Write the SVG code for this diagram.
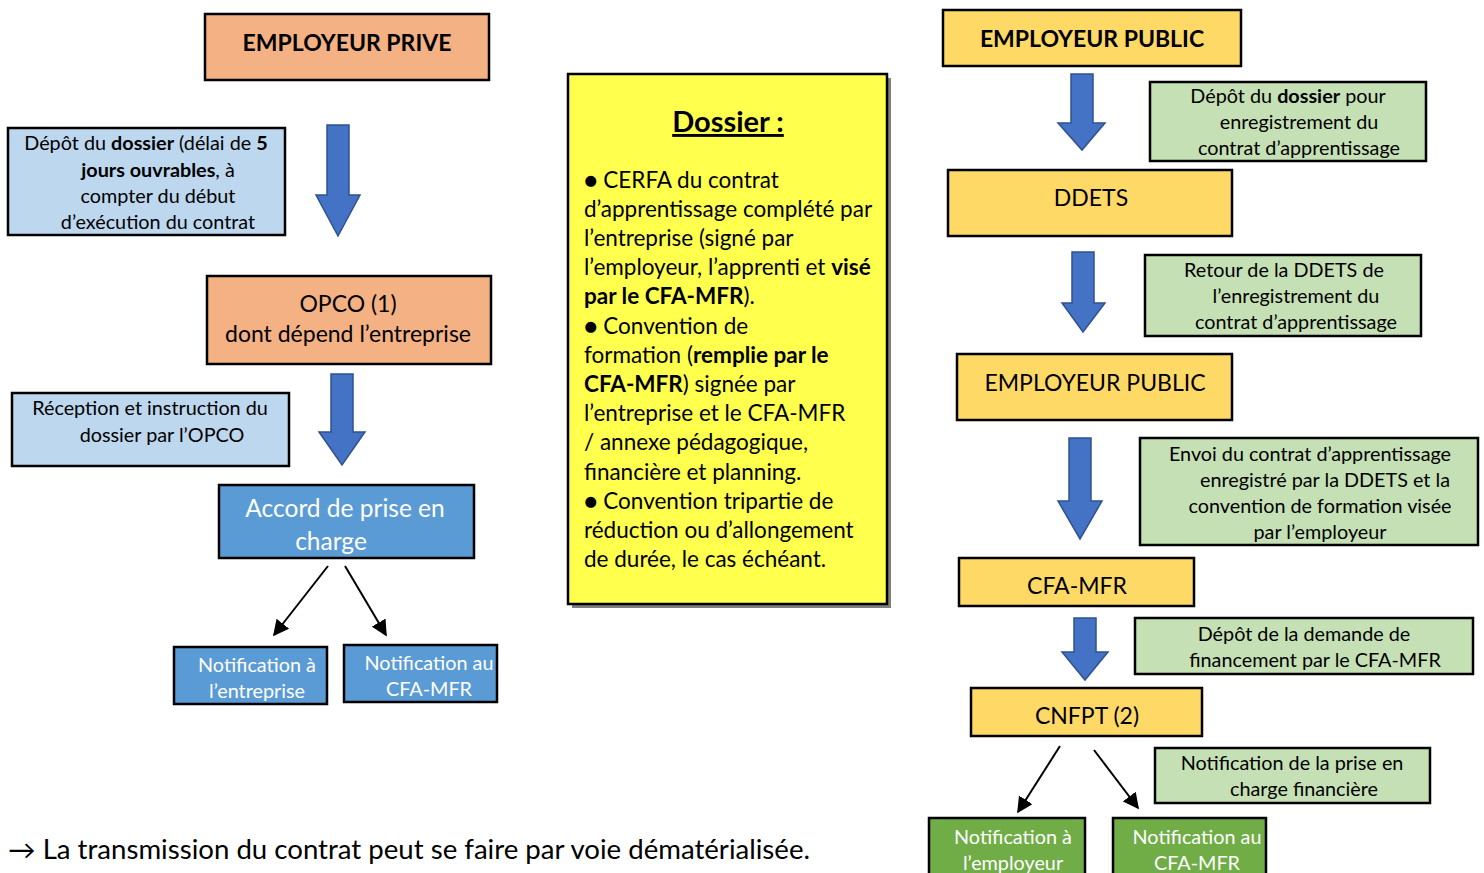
<svg xmlns="http://www.w3.org/2000/svg" width="1484" height="873" viewBox="0 0 1484 873">
<style>
text{font-family:Lato,"Open Sans","DejaVu Sans",sans-serif;fill:#000}
.box{stroke:#000;stroke-width:2.5}
.orange{fill:#F4B183}
.lblue{fill:#BDD7EE}
.mblue{fill:#5B9BD5}
.gold{fill:#FFD966}
.lgreen{fill:#C5E0B4}
.green{fill:#70AD47}
.t18{font-size:19.8px}
.t21{font-size:22.5px}
.t22{font-size:23px}
.w{fill:#fff}
.b{font-weight:bold}
.blk{stroke:#2F528F;stroke-width:1.5;fill:#4472C4}
.ln{stroke:#000;stroke-width:2;fill:none;marker-end:url(#ah)}
</style>
<defs>
<marker id="ah" viewBox="0 0 10 10" refX="9" refY="5" markerWidth="8" markerHeight="8" orient="auto" markerUnits="strokeWidth">
<path d="M0,0 L10,5 L0,10 z" fill="#000"/>
</marker>
</defs>
<rect width="1484" height="873" fill="#fff"/>

<g id="connectors">
<polygon class="blk" points="327,125 349,125 349,195 360,195 338,236 316,195 327,195"/>
<polygon class="blk" points="331,374 353,374 353,432 365,432 342,465 319,432 331,432"/>
<path class="ln" d="M328,566 L274,635"/>
<path class="ln" d="M345,566 L386,635"/>
<polygon class="blk" points="1071,74 1093,74 1093,123 1105,123 1082,150 1058,123 1071,123"/>
<polygon class="blk" points="1072,252 1094,252 1094,303 1105,303 1083,332 1062,303 1072,303"/>
<polygon class="blk" points="1069,438 1091,438 1091,501 1102,501 1080,539 1058,501 1069,501"/>
<polygon class="blk" points="1074,618 1096,618 1096,652 1108,652 1085,680 1062,652 1074,652"/>
<path class="ln" d="M1060,746 L1018,812"/>
<path class="ln" d="M1094,750 L1138,808"/>
</g>

<g id="employeur-prive">
<rect class="box orange" x="205" y="14" width="284" height="66"/>
<text class="t22 b" x="347" y="51" text-anchor="middle">EMPLOYEUR PRIVE</text>
</g>

<g id="depot-dossier-prive">
<rect class="box lblue" x="8" y="128" width="277" height="107"/>
<text class="t18" text-anchor="middle"><tspan x="146" y="150">Dépôt du <tspan class="b">dossier</tspan> (délai de <tspan class="b">5</tspan></tspan><tspan x="158" y="177"><tspan class="b">jours ouvrables</tspan>, à</tspan><tspan x="158" y="203">compter du début</tspan><tspan x="158" y="229">d’exécution du contrat</tspan></text>
</g>

<g id="opco">
<rect class="box orange" x="207" y="276" width="284" height="88"/>
<text class="t22" text-anchor="middle"><tspan x="348" y="312">OPCO (1)</tspan><tspan x="348" y="342">dont dépend l’entreprise</tspan></text>
</g>

<g id="reception">
<rect class="box lblue" x="12" y="393" width="277" height="73"/>
<text class="t18" text-anchor="middle"><tspan x="150" y="415">Réception et instruction du</tspan><tspan x="162" y="442">dossier par l’OPCO</tspan></text>
</g>

<g id="accord">
<rect class="box mblue" x="219" y="485" width="255" height="73"/>
<text class="w" text-anchor="middle" style="font-size:24.5px"><tspan x="345" y="517">Accord de prise en</tspan><tspan x="331" y="550">charge</tspan></text>
</g>

<g id="notif-entreprise">
<rect class="box mblue" x="174" y="647" width="153" height="57"/>
<text class="t18 w" text-anchor="middle"><tspan x="257" y="672">Notification à</tspan><tspan x="257" y="698">l’entreprise</tspan></text>
</g>

<g id="notif-cfa-prive">
<rect class="box mblue" x="344" y="645" width="153" height="57"/>
<text class="t18 w" text-anchor="middle"><tspan x="429" y="670">Notification au</tspan><tspan x="429" y="696">CFA-MFR</tspan></text>
</g>

<g id="dossier">
<rect x="572" y="78" width="319" height="530" fill="#7f7f7f"/>
<rect x="568" y="74" width="319" height="530" fill="#FFFF4D" stroke="#000" stroke-width="2.5"/>
<text x="728" y="132" text-anchor="middle" class="b" style="font-size:29px;text-decoration:underline">Dossier :</text>
<text class="t21">
<tspan x="584" y="188">● CERFA du contrat</tspan>
<tspan x="584" y="217">d’apprentissage complété par</tspan>
<tspan x="584" y="246">l’entreprise (signé par</tspan>
<tspan x="584" y="275">l’employeur, l’apprenti et <tspan class="b">visé</tspan></tspan>
<tspan x="584" y="304"><tspan class="b">par le CFA-MFR</tspan>).</tspan>
<tspan x="584" y="334">● Convention de</tspan>
<tspan x="584" y="363">formation (<tspan class="b">remplie par le</tspan></tspan>
<tspan x="584" y="392"><tspan class="b">CFA-MFR</tspan>) signée par</tspan>
<tspan x="584" y="421">l’entreprise et le CFA-MFR</tspan>
<tspan x="584" y="450">/ annexe pédagogique,</tspan>
<tspan x="584" y="480">financière et planning.</tspan>
<tspan x="584" y="509">● Convention tripartie de</tspan>
<tspan x="584" y="538">réduction ou d’allongement</tspan>
<tspan x="584" y="567">de durée, le cas échéant.</tspan>
</text>
</g>

<g id="employeur-public">
<rect class="box gold" x="943" y="10" width="298" height="56"/>
<text class="t22 b" x="1092" y="47" text-anchor="middle">EMPLOYEUR PUBLIC</text>
</g>

<g id="depot-dossier-public">
<rect class="box lgreen" x="1150" y="82" width="276" height="79"/>
<text class="t18" text-anchor="middle"><tspan x="1288" y="103">Dépôt du <tspan class="b">dossier</tspan> pour</tspan><tspan x="1299" y="129">enregistrement du</tspan><tspan x="1299" y="155">contrat d’apprentissage</tspan></text>
</g>

<g id="ddets">
<rect class="box gold" x="948" y="170" width="284" height="66"/>
<text class="t22" x="1091" y="206" text-anchor="middle">DDETS</text>
</g>

<g id="retour">
<rect class="box lgreen" x="1145" y="255" width="276" height="81"/>
<text class="t18" text-anchor="middle"><tspan x="1284" y="277">Retour de la DDETS de</tspan><tspan x="1296" y="303">l’enregistrement du</tspan><tspan x="1296" y="329">contrat d’apprentissage</tspan></text>
</g>

<g id="employeur-public-2">
<rect class="box gold" x="957" y="354" width="275" height="66"/>
<text class="t22" x="1095" y="391" text-anchor="middle">EMPLOYEUR PUBLIC</text>
</g>

<g id="envoi">
<rect class="box lgreen" x="1140" y="438" width="338" height="107"/>
<text class="t18" text-anchor="middle"><tspan x="1310" y="461">Envoi du contrat d’apprentissage</tspan><tspan x="1325" y="487">enregistré par la DDETS et la</tspan><tspan x="1320" y="513">convention de formation visée</tspan><tspan x="1320" y="539">par l’employeur</tspan></text>
</g>

<g id="cfa-mfr">
<rect class="box gold" x="959" y="558" width="235" height="48"/>
<text class="t22" x="1077" y="594" text-anchor="middle">CFA-MFR</text>
</g>

<g id="depot-demande">
<rect class="box lgreen" x="1135" y="618" width="338" height="56"/>
<text class="t18" text-anchor="middle"><tspan x="1304" y="641">Dépôt de la demande de</tspan><tspan x="1315" y="667">financement par le CFA-MFR</tspan></text>
</g>

<g id="cnfpt">
<rect class="box gold" x="971" y="688" width="231" height="48"/>
<text class="t22" x="1087" y="724" text-anchor="middle">CNFPT (2)</text>
</g>

<g id="notif-prise">
<rect class="box lgreen" x="1155" y="748" width="275" height="55"/>
<text class="t18" text-anchor="middle"><tspan x="1292" y="770">Notification de la prise en</tspan><tspan x="1304" y="796">charge financière</tspan></text>
</g>

<g id="notif-employeur">
<rect class="box green" x="929" y="818" width="156" height="70"/>
<text class="t18 w" text-anchor="middle"><tspan x="1013" y="844">Notification à</tspan><tspan x="1013" y="870">l’employeur</tspan></text>
</g>

<g id="notif-cfa-public">
<rect class="box green" x="1113" y="818" width="153" height="70"/>
<text class="t18 w" text-anchor="middle"><tspan x="1197" y="844">Notification au</tspan><tspan x="1197" y="870">CFA-MFR</tspan></text>
</g>

<g id="note">
<text x="8" y="859" style="font-size:26px" textLength="802" lengthAdjust="spacingAndGlyphs">→ La transmission du contrat peut se faire par voie dématérialisée.</text>
</g>
</svg>
